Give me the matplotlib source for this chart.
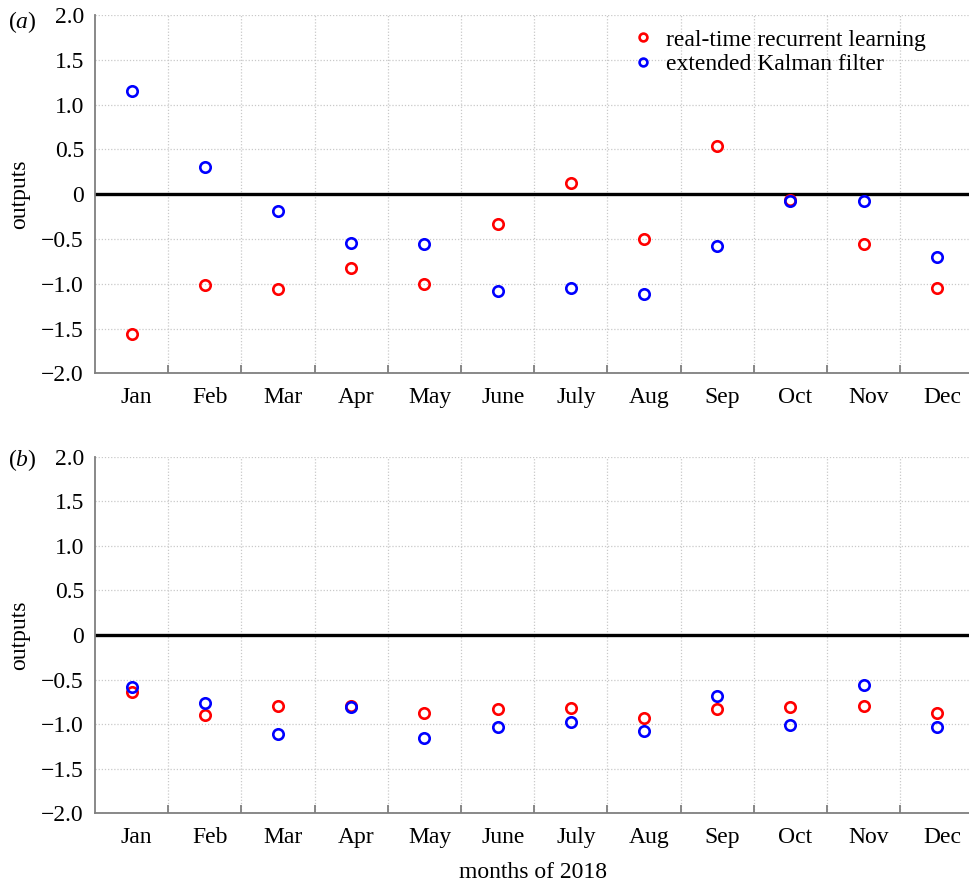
import matplotlib
matplotlib.use("Agg")
import matplotlib.pyplot as plt
import numpy as np

months = ["Jan", "Feb", "Mar", "Apr", "May", "June", "July", "Aug", "Sep", "Oct", "Nov", "Dec"]

# panel (a)
rtrl_a = [-1.56, -1.01, -1.06, -0.83, -1.00, -0.33, 0.13, -0.50, 0.54, -0.07, -0.56, -1.05]
ekf_a = [1.15, 0.30, -0.19, -0.55, -0.56, -1.08, -1.05, -1.11, -0.58, -0.08, -0.08, -0.70]

# panel (b)
rtrl_b = [-0.64, -0.90, -0.80, -0.80, -0.88, -0.83, -0.82, -0.93, -0.83, -0.81, -0.80, -0.87]
ekf_b = [-0.58, -0.76, -1.11, -0.81, -1.16, -1.03, -0.98, -1.08, -0.68, -1.01, -0.56, -1.03]

yticks = [2.0, 1.5, 1.0, 0.5, 0.0, -0.5, -1.0, -1.5, -2.0]
ytick_labels = ["2.0", "1.5", "1.0", "0.5", "0", "\u22120.5", "\u22121.0", "\u22121.5", "\u22122.0"]

plt.rcParams['font.family'] = ['Liberation Serif', 'DejaVu Serif']
plt.rcParams['mathtext.fontset'] = 'custom'
plt.rcParams['mathtext.it'] = 'Liberation Serif:italic'
plt.rcParams['mathtext.rm'] = 'Liberation Serif'

W, H = 969, 885
fig = plt.figure(figsize=(W / 100, H / 100), dpi=100)

def px_rect(left, top, right, bottom):
    return [left / W, 1 - bottom / H, (right - left) / W, (bottom - top) / H]

ax_a = fig.add_axes(px_rect(95, 15, 973.4, 373.3))
ax_b = fig.add_axes(px_rect(95, 456.7, 973.4, 813.3))

FS = 17
grey = "#7f7f7f"
x = np.arange(len(months)) + 0.5

def style(ax, rtrl, ekf):
    ax.set_xlim(0, 12)
    ax.set_ylim(-2.0, 2.0)
    for s in ["top", "right"]:
        ax.spines[s].set_visible(False)
    for s in ["left", "bottom"]:
        ax.spines[s].set_color(grey)
        ax.spines[s].set_linewidth(1.3)
    ax.set_yticks(yticks)
    ax.set_yticklabels(ytick_labels, fontsize=FS)
    ax.tick_params(axis="y", length=0, pad=8)
    ax.set_xticks(np.arange(len(months)) + 0.57)
    ax.set_xticklabels(months, fontsize=FS)
    ax.set_xticks(np.arange(1, 12), minor=True)
    ax.tick_params(axis="x", which="major", length=0, pad=10)
    ax.tick_params(axis="x", which="minor", direction="in", length=6, width=1.3, color=grey)
    for yv in yticks:
        ax.axhline(yv, color="#c9c9c9", lw=0.9, ls=(0, (1, 1.5)), zorder=0)
    for xv in range(1, 12):
        ax.axvline(xv, color="#c9c9c9", lw=0.9, ls=(0, (1, 1.5)), zorder=0)
    ax.axhline(0, color="black", lw=2.4, zorder=1)
    l1, = ax.plot(x, rtrl, ls="none", marker="o", mfc="none", mec="#ff0000",
                  ms=7.5, mew=1.9, zorder=3, label="real-time recurrent learning")
    l2, = ax.plot(x, ekf, ls="none", marker="o", mfc="none", mec="#0000ff",
                  ms=7.5, mew=1.9, zorder=4, label="extended Kalman filter")
    return l1, l2

l1, l2 = style(ax_a, rtrl_a, ekf_a)
style(ax_b, rtrl_b, ekf_b)

fig.text(20 / W, 1 - 194 / H, "outputs", fontsize=FS, rotation=90, ha="center", va="center")
fig.text(20 / W, 1 - 635 / H, "outputs", fontsize=FS, rotation=90, ha="center", va="center")

fig.text(8 / W, 1 - 22 / H, "($\\it{a}$)", fontsize=FS, va="center", ha="left")
fig.text(8 / W, 1 - 460 / H, "($\\it{b}$)", fontsize=FS, va="center", ha="left")

fig.text(533 / W, 1 - 873 / H, "months of 2018", fontsize=FS, ha="center", va="center")

leg = fig.legend(handles=[l1, l2], loc="upper left",
                 bbox_to_anchor=(631 / W, 1 - 29 / H), frameon=False,
                 fontsize=FS, handlelength=1.0, handletextpad=0.5,
                 labelspacing=0.12, borderpad=0, borderaxespad=0, markerscale=0.75)

fig.savefig("out.png", dpi=100)
